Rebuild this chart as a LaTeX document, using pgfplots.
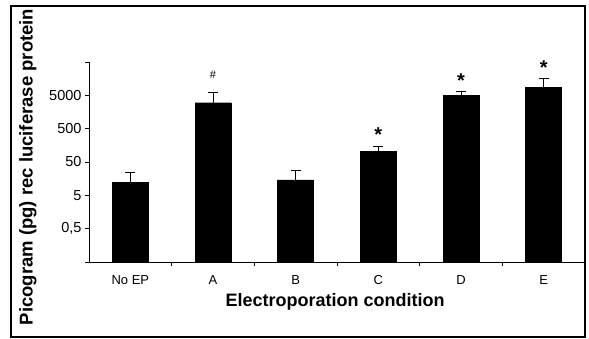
\documentclass[border=0pt]{standalone}
\usepackage{fontspec}
\setmainfont{Liberation Sans}
\usepackage{pgfplots}
\pgfplotsset{compat=1.18}
\begin{document}
\begin{tikzpicture}
\useasboundingbox (0pt,0pt) rectangle (589pt,-338pt);
\draw[line width=1.1pt] (11pt,-6pt) rectangle (585pt,-337pt);
\begin{axis}[
  at={(89pt,-262pt)}, anchor=south west,
  scale only axis, width=496pt, height=200pt,
  ymode=log, ymin=0.05, ymax=50000, log origin=infty,
  xmin=-0.5, xmax=5.5,
  axis x line=bottom, axis y line=left,
  axis line style={-, line width=0.9pt},
  ytick={0.05,0.5,5,50,500,5000,50000},
  yticklabels={,{0,5},5,50,500,5000,},
  yminorticks=false,
  xtick={0,1,2,3,4,5},
  xticklabels={No EP,A,B,C,D,E},
  minor xtick={0.5,1.5,2.5,3.5,4.5,5.5},
  major x tick style={draw=none},
  tick align=outside,
  tick style={black, line width=0.8pt},
  major tick length=4pt, minor tick length=4pt,
  /pgf/number format/assume math mode=true,
  yticklabel style={font=\fontsize{14.5}{14.5}\selectfont},
  xticklabel style={font=\fontsize{13}{13}\selectfont, yshift=-6pt},
  ybar, bar width=36pt,
  clip=false,
]
\addplot[fill=black, draw=black,
  error bars/.cd, y dir=plus, y explicit,
  error bar style={line width=1pt, black},
  error mark options={rotate=90, mark size=5pt, line width=1pt, black}]
  table[x=x, y=y, y error=e] {
x y e
0 12 12.5
1 3000 3000
2 14.5 12.5
3 103 47
4 5000 1700
5 8700 7100
};
\node[font=\fontsize{11}{11}\selectfont] at (axis cs:1,20500) {\#};
\node[font=\bfseries\fontsize{20}{20}\selectfont, yshift=-4pt] at (axis cs:3,445) {*};
\node[font=\bfseries\fontsize{20}{20}\selectfont, yshift=-4pt] at (axis cs:4,17800) {*};
\node[font=\bfseries\fontsize{20}{20}\selectfont, yshift=-4pt] at (axis cs:5,43700) {*};
\end{axis}
\node[font=\bfseries\fontsize{18}{18}\selectfont] at (335pt,-302pt) {Electroporation condition};
\node[rotate=90, font=\bfseries\fontsize{18.5}{18.5}\selectfont] at (28pt,-167pt) {Picogram (pg) rec luciferase protein};
\end{tikzpicture}
\end{document}
